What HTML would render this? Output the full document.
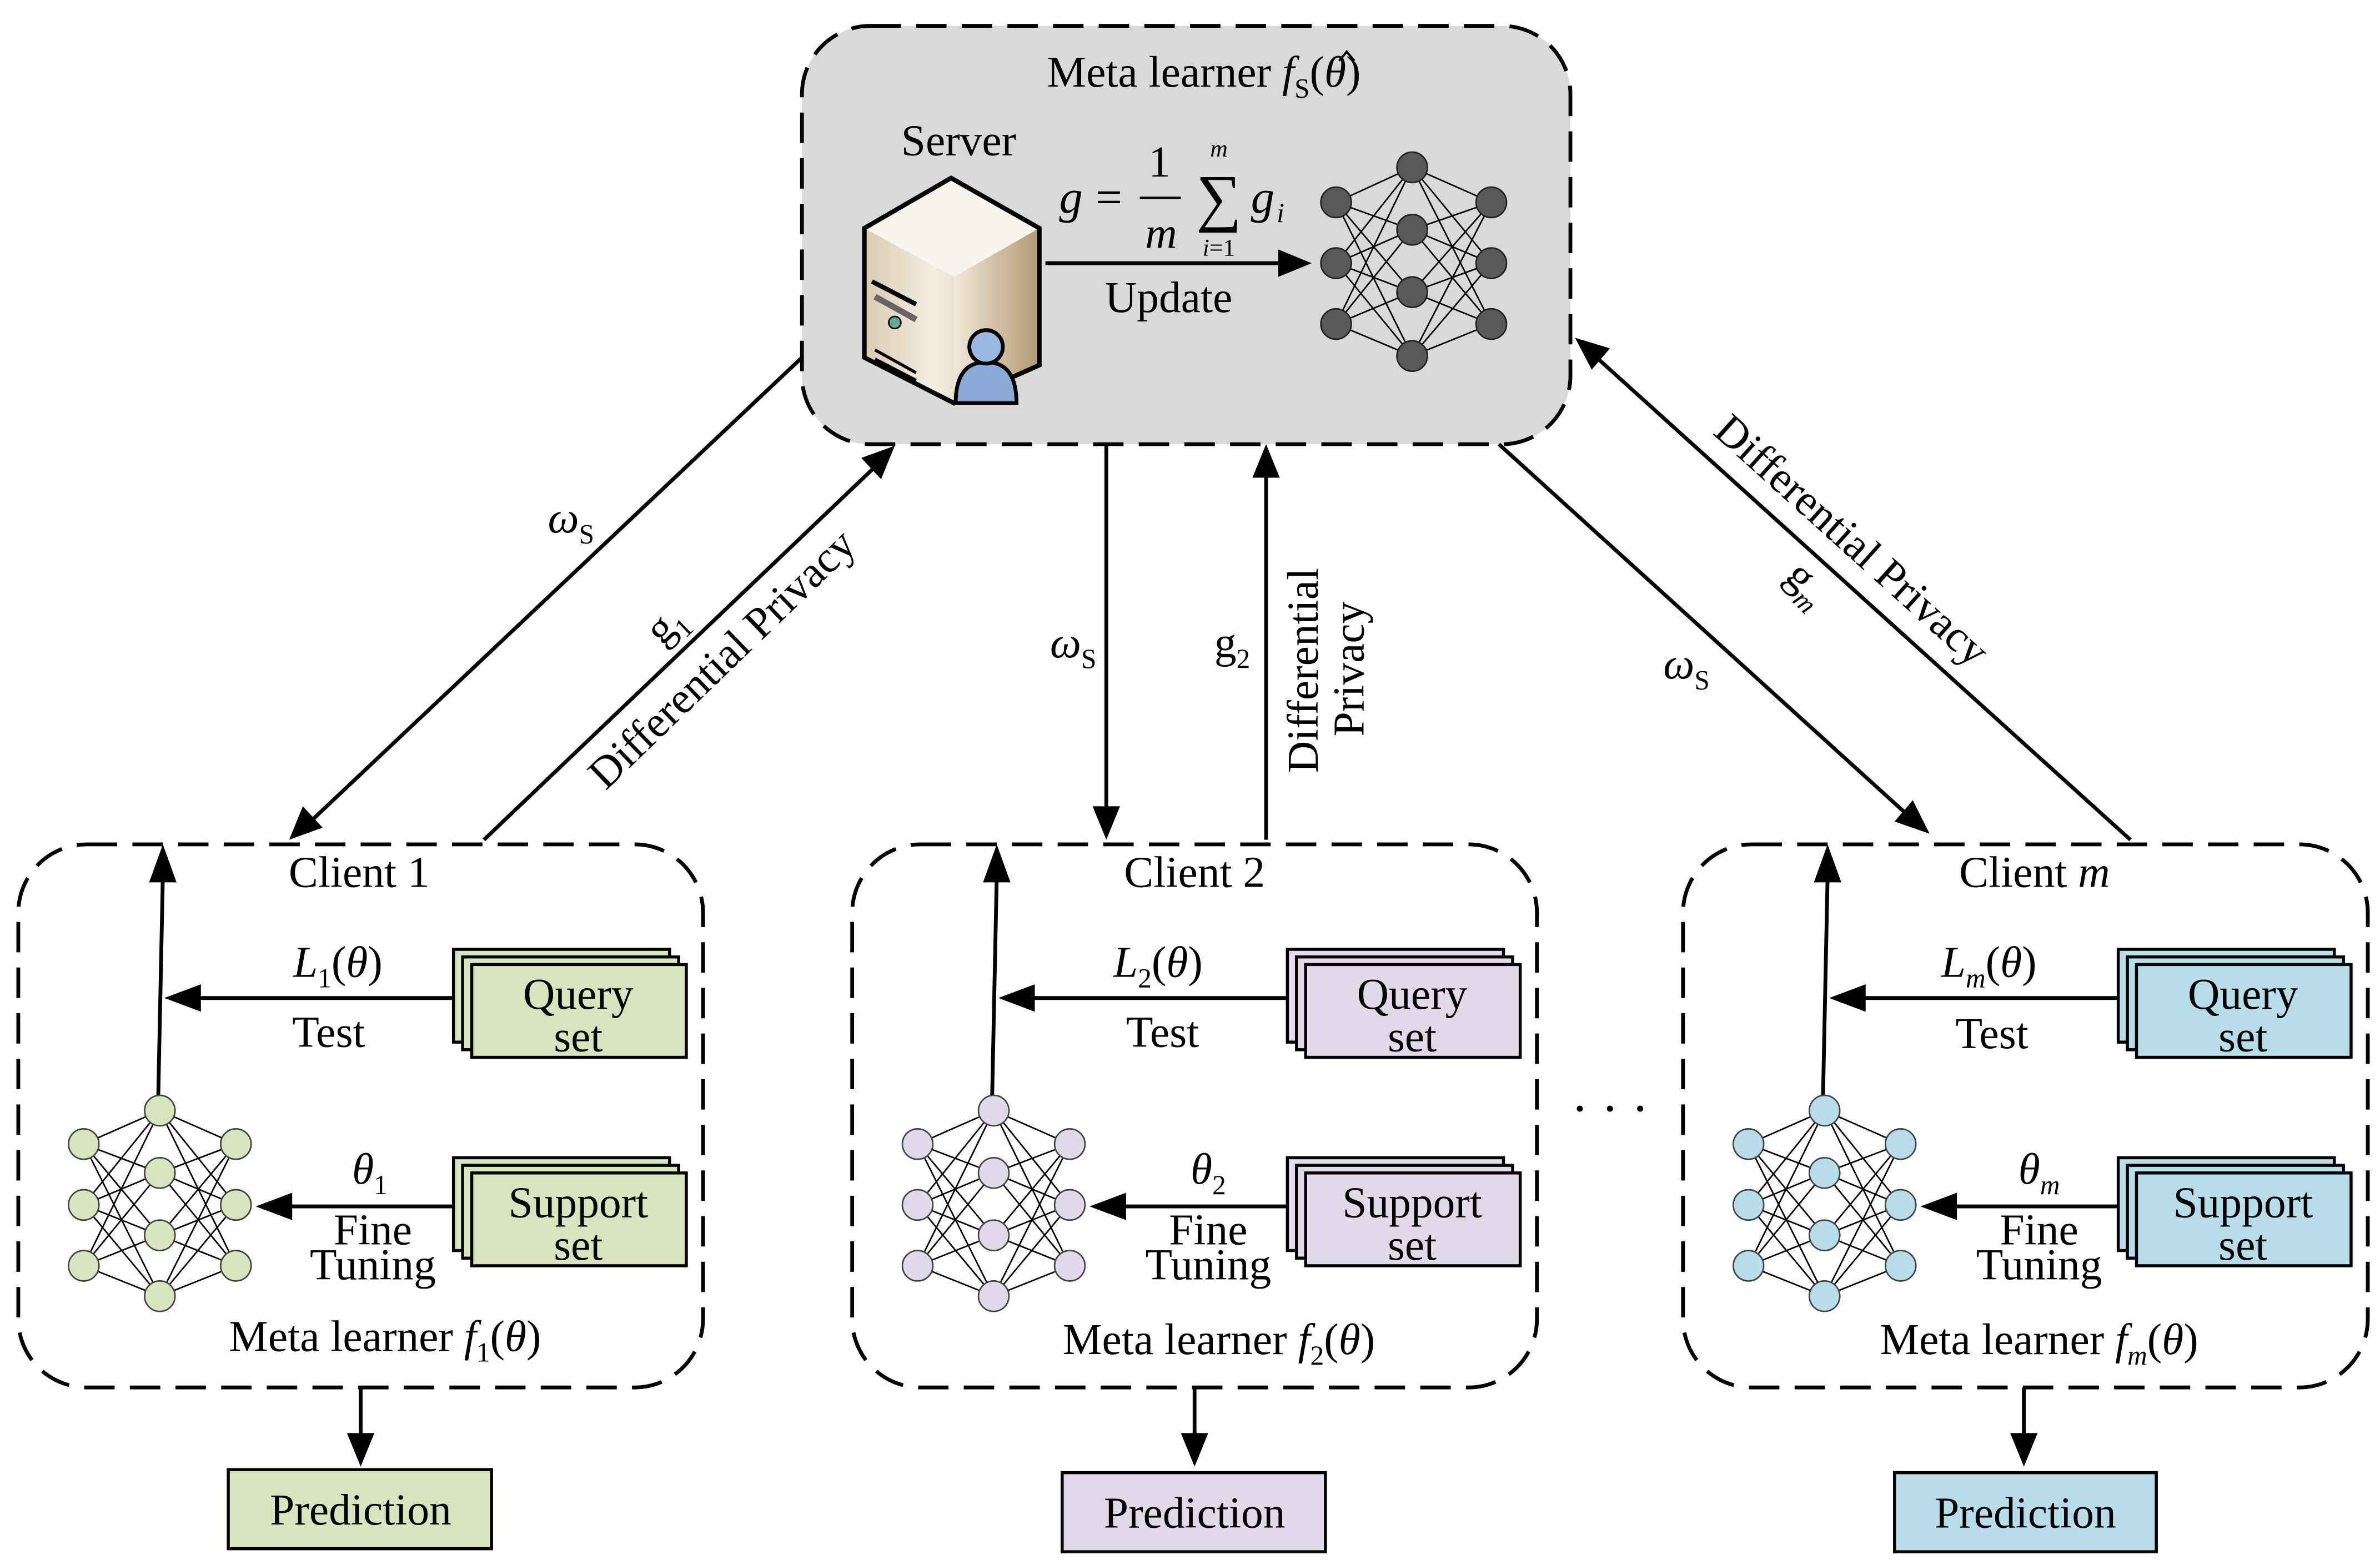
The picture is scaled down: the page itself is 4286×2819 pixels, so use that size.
<!DOCTYPE html>
<html><head><meta charset="utf-8"><style>
html,body{margin:0;padding:0;background:#fff;}
svg{display:block;}
text{font-family:"Liberation Serif",serif;fill:#000;}
</style></head><body>
<svg width="4286" height="2819" viewBox="0 0 1564 1028.7" xmlns="http://www.w3.org/2000/svg">
<defs>
<linearGradient id="srv" x1="0" x2="1"><stop offset="0" stop-color="#d8ccb0"/><stop offset="0.4" stop-color="#f3eee2"/><stop offset="1" stop-color="#b9a47c"/></linearGradient>
<linearGradient id="srv2" x1="0" x2="1"><stop offset="0" stop-color="#efe8d8"/><stop offset="1" stop-color="#b09a70"/></linearGradient>
</defs>

<rect x="527" y="17" width="505" height="275" rx="45" fill="#d9d9d9" stroke="#000" stroke-width="2.5" stroke-dasharray="20,10"/>
<text x="688" y="57" font-size="29">Meta learner <tspan font-style="italic">f</tspan><tspan font-size="18" dy="7">S</tspan><tspan dy="-7">(</tspan><tspan font-style="italic">θ</tspan>)</text>
<path d="M880,40 L885,34 L890,40" fill="none" stroke="#000" stroke-width="1.5"/>
<text x="630" y="102" font-size="29" text-anchor="middle">Server</text>
<polygon points="568,150 625,117 683,150 683,240 627,265 568,235" fill="url(#srv)"/>
<polygon points="568,150 625,117 683,150 627,182" fill="#f8f5ee"/>
<polygon points="627,182 683,150 683,240 627,265" fill="url(#srv2)"/>
<polygon points="568,150 625,117 683,150 683,240 627,265 568,235" fill="none" stroke="#000" stroke-width="3"/>
<line x1="573" y1="185" x2="602" y2="200" stroke="#000" stroke-width="3"/>
<line x1="575" y1="195" x2="602" y2="210" stroke="#666" stroke-width="4"/>
<circle cx="588" cy="212" r="4" fill="#6a9" stroke="#000" stroke-width="1"/>
<line x1="575" y1="230" x2="602" y2="245" stroke="#000" stroke-width="2"/>
<line x1="575" y1="236" x2="602" y2="250" stroke="#000" stroke-width="2"/>
<path d="M628,265 Q628,238 648,238 Q668,238 668,265 Z" fill="#8aaad8" stroke="#000" stroke-width="2.5"/>
<circle cx="648" cy="228" r="11" fill="#9bb9e0" stroke="#000" stroke-width="2.5"/>
<text x="696" y="140" font-size="31" font-style="italic">g</text>
<text x="720" y="140" font-size="31">=</text>
<text x="762" y="116" font-size="29" text-anchor="middle">1</text>
<line x1="749" y1="130" x2="776" y2="130" stroke="#000" stroke-width="1.5"/>
<text x="763" y="163" font-size="29" font-style="italic" text-anchor="middle">m</text>
<text x="801" y="144" font-size="42" text-anchor="middle">∑</text>
<text x="801" y="103" font-size="16" font-style="italic" text-anchor="middle">m</text>
<text x="801" y="168" font-size="16" text-anchor="middle"><tspan font-style="italic">i</tspan>=1</text>
<text x="822" y="140" font-size="31" font-style="italic">g</text>
<text x="839" y="146" font-size="18" font-style="italic">i</text>
<line x1="687" y1="173" x2="843" y2="173" stroke="#000" stroke-width="2.5"/>
<polygon points="862,173 840,164 840,182" fill="#000"/>
<text x="768" y="205" font-size="29" text-anchor="middle">Update</text>
<g stroke="#000" stroke-width="1">
<path d="M878,133L928,110M878,133L928,151M878,133L928,192M878,133L928,234M878,173L928,110M878,173L928,151M878,173L928,192M878,173L928,234M878,213L928,110M878,213L928,151M878,213L928,192M878,213L928,234M980,133L928,110M980,133L928,151M980,133L928,192M980,133L928,234M980,173L928,110M980,173L928,151M980,173L928,192M980,173L928,234M980,213L928,110M980,213L928,151M980,213L928,192M980,213L928,234"/>
</g>
<g fill="#595959" stroke="#222" stroke-width="1">
<circle cx="878" cy="133" r="10"/><circle cx="878" cy="173" r="10"/><circle cx="878" cy="213" r="10"/>
<circle cx="928" cy="110" r="10"/><circle cx="928" cy="151" r="10"/><circle cx="928" cy="192" r="10"/><circle cx="928" cy="234" r="10"/>
<circle cx="980" cy="133" r="10"/><circle cx="980" cy="173" r="10"/><circle cx="980" cy="213" r="10"/>
</g>

<g stroke="#000" stroke-width="2.5" fill="none">
<line x1="527" y1="235" x2="203" y2="541"/>
<line x1="318" y1="552" x2="578" y2="304"/>
<line x1="727" y1="292" x2="727" y2="532"/>
<line x1="832" y1="552" x2="832" y2="312"/>
<line x1="985" y1="292" x2="1255" y2="537"/>
<line x1="1400" y1="552" x2="1047" y2="233"/>
</g>
<g fill="#000">
<polygon points="190,552 199,530 212,544"/>
<polygon points="588,293 579,315 566,301"/>
<polygon points="727,552 718,530 736,530"/>
<polygon points="832,292 823,314 841,314"/>
<polygon points="1268,548 1245,540 1257,526"/>
<polygon points="1035,222 1058,229 1046,243"/>
</g>
<text x="360" y="350" font-size="29" font-style="italic">ω<tspan font-size="18" font-style="normal" dy="7">S</tspan></text>
<text x="690" y="432" font-size="29" font-style="italic">ω<tspan font-size="18" font-style="normal" dy="7">S</tspan></text>
<text x="1093" y="446" font-size="29" font-style="italic">ω<tspan font-size="18" font-style="normal" dy="7">S</tspan></text>
<text transform="translate(435,425) rotate(-44)" font-size="29">g<tspan font-size="18" dy="7">1</tspan></text>
<text transform="translate(398,520) rotate(-44)" font-size="29">Differential Privacy</text>
<text x="798" y="432" font-size="29">g<tspan font-size="18" dy="7">2</tspan></text>
<text transform="translate(866,508) rotate(-90)" font-size="29">Differential</text>
<text transform="translate(896,484) rotate(-90)" font-size="29">Privacy</text>
<text transform="translate(1172,380) rotate(45)" font-size="29">g<tspan font-size="18" font-style="italic" dy="7">m</tspan></text>
<text transform="translate(1125,285) rotate(42)" font-size="29">Differential Privacy</text>
<text x="1058" y="740" font-size="34" text-anchor="middle">· · ·</text>

<g>
<rect x="12" y="555" width="450" height="357" rx="45" fill="none" stroke="#000" stroke-width="2.5" stroke-dasharray="20,10"/>
<line x1="104" y1="720" x2="107" y2="576" stroke="#000" stroke-width="2.5"/>
<polygon points="107,555 98,580 116,580" fill="#000"/>
<line x1="298" y1="656" x2="130" y2="656" stroke="#000" stroke-width="2.5"/>
<polygon points="108,656 132,647 132,665" fill="#000"/>
<line x1="298" y1="793" x2="190" y2="793" stroke="#000" stroke-width="2.5"/>
<polygon points="168,793 192,784 192,802" fill="#000"/>
<g stroke="#000" stroke-width="1">
<path d="M55,752L105,730M55,752L105,771M55,752L105,812M55,752L105,852M55,792L105,730M55,792L105,771M55,792L105,812M55,792L105,852M55,832L105,730M55,832L105,771M55,832L105,812M55,832L105,852M155,752L105,730M155,752L105,771M155,752L105,812M155,752L105,852M155,792L105,730M155,792L105,771M155,792L105,812M155,792L105,852M155,832L105,730M155,832L105,771M155,832L105,812M155,832L105,852"/>
</g>
<g fill="#d7e4bd" stroke="#444" stroke-width="1">
<circle cx="55" cy="752" r="10"/><circle cx="55" cy="792" r="10"/><circle cx="55" cy="832" r="10"/>
<circle cx="105" cy="730" r="10"/><circle cx="105" cy="771" r="10"/><circle cx="105" cy="812" r="10"/><circle cx="105" cy="852" r="10"/>
<circle cx="155" cy="752" r="10"/><circle cx="155" cy="792" r="10"/><circle cx="155" cy="832" r="10"/>
</g>
<g fill="#d7e4bd" stroke="#000" stroke-width="2">
<rect x="298" y="624" width="142" height="61"/><rect x="304" y="629" width="142" height="61"/><rect x="310" y="634" width="141" height="61"/>
<rect x="298" y="761" width="142" height="61"/><rect x="304" y="766" width="142" height="61"/><rect x="310" y="771" width="141" height="61"/>
</g>
<text x="380" y="663" font-size="29" text-anchor="middle">Query</text>
<text x="380" y="691" font-size="29" text-anchor="middle">set</text>
<text x="380" y="800" font-size="29" text-anchor="middle">Support</text>
<text x="380" y="828" font-size="29" text-anchor="middle">set</text>
<text x="236" y="583" font-size="29" text-anchor="middle">Client 1</text>
<text x="222" y="642" font-size="29" text-anchor="middle"><tspan font-style="italic">L</tspan><tspan font-size="18" dy="7">1</tspan><tspan dy="-7">(</tspan><tspan font-style="italic">θ</tspan>)</text>
<text x="216" y="688" font-size="29" text-anchor="middle">Test</text>
<text x="243" y="778" font-size="29" text-anchor="middle"><tspan font-style="italic">θ</tspan><tspan font-size="18" dy="7">1</tspan></text>
<text x="245" y="818" font-size="29" text-anchor="middle">Fine</text>
<text x="245" y="841" font-size="29" text-anchor="middle">Tuning</text>
<text x="253" y="888" font-size="29" text-anchor="middle">Meta learner <tspan font-style="italic">f</tspan><tspan font-size="18" dy="7">1</tspan><tspan dy="-7">(</tspan><tspan font-style="italic">θ</tspan>)</text>
<line x1="237" y1="912" x2="237" y2="945" stroke="#000" stroke-width="2.5"/>
<polygon points="237,964 228,942 246,942" fill="#000"/>
<rect x="150" y="966" width="173" height="52" fill="#d7e4bd" stroke="#000" stroke-width="2"/>
<text x="237" y="1002" font-size="29" text-anchor="middle">Prediction</text>
</g>

<g transform="translate(548,0)">
<rect x="12" y="555" width="450" height="357" rx="45" fill="none" stroke="#000" stroke-width="2.5" stroke-dasharray="20,10"/>
<line x1="104" y1="720" x2="107" y2="576" stroke="#000" stroke-width="2.5"/>
<polygon points="107,555 98,580 116,580" fill="#000"/>
<line x1="298" y1="656" x2="130" y2="656" stroke="#000" stroke-width="2.5"/>
<polygon points="108,656 132,647 132,665" fill="#000"/>
<line x1="298" y1="793" x2="190" y2="793" stroke="#000" stroke-width="2.5"/>
<polygon points="168,793 192,784 192,802" fill="#000"/>
<g stroke="#000" stroke-width="1">
<path d="M55,752L105,730M55,752L105,771M55,752L105,812M55,752L105,852M55,792L105,730M55,792L105,771M55,792L105,812M55,792L105,852M55,832L105,730M55,832L105,771M55,832L105,812M55,832L105,852M155,752L105,730M155,752L105,771M155,752L105,812M155,752L105,852M155,792L105,730M155,792L105,771M155,792L105,812M155,792L105,852M155,832L105,730M155,832L105,771M155,832L105,812M155,832L105,852"/>
</g>
<g fill="#e0d9e8" stroke="#444" stroke-width="1">
<circle cx="55" cy="752" r="10"/><circle cx="55" cy="792" r="10"/><circle cx="55" cy="832" r="10"/>
<circle cx="105" cy="730" r="10"/><circle cx="105" cy="771" r="10"/><circle cx="105" cy="812" r="10"/><circle cx="105" cy="852" r="10"/>
<circle cx="155" cy="752" r="10"/><circle cx="155" cy="792" r="10"/><circle cx="155" cy="832" r="10"/>
</g>
<g fill="#e0d9e8" stroke="#000" stroke-width="2">
<rect x="298" y="624" width="142" height="61"/><rect x="304" y="629" width="142" height="61"/><rect x="310" y="634" width="141" height="61"/>
<rect x="298" y="761" width="142" height="61"/><rect x="304" y="766" width="142" height="61"/><rect x="310" y="771" width="141" height="61"/>
</g>
<text x="380" y="663" font-size="29" text-anchor="middle">Query</text>
<text x="380" y="691" font-size="29" text-anchor="middle">set</text>
<text x="380" y="800" font-size="29" text-anchor="middle">Support</text>
<text x="380" y="828" font-size="29" text-anchor="middle">set</text>
<text x="237" y="583" font-size="29" text-anchor="middle">Client 2</text>
<text x="213" y="642" font-size="29" text-anchor="middle"><tspan font-style="italic">L</tspan><tspan font-size="18" dy="7">2</tspan><tspan dy="-7">(</tspan><tspan font-style="italic">θ</tspan>)</text>
<text x="216" y="688" font-size="29" text-anchor="middle">Test</text>
<text x="246" y="778" font-size="29" text-anchor="middle"><tspan font-style="italic">θ</tspan><tspan font-size="18" dy="7">2</tspan></text>
<text x="246" y="818" font-size="29" text-anchor="middle">Fine</text>
<text x="246" y="841" font-size="29" text-anchor="middle">Tuning</text>
<text x="253" y="890" font-size="29" text-anchor="middle">Meta learner <tspan font-style="italic">f</tspan><tspan font-size="18" dy="7">2</tspan><tspan dy="-7">(</tspan><tspan font-style="italic">θ</tspan>)</text>
<line x1="237" y1="912" x2="237" y2="945" stroke="#000" stroke-width="2.5"/>
<polygon points="237,964 228,942 246,942" fill="#000"/>
<rect x="150" y="968" width="173" height="52" fill="#e0d9e8" stroke="#000" stroke-width="2"/>
<text x="237" y="1004" font-size="29" text-anchor="middle">Prediction</text>
</g>

<g transform="translate(1094,0)">
<rect x="12" y="555" width="450" height="357" rx="45" fill="none" stroke="#000" stroke-width="2.5" stroke-dasharray="20,10"/>
<line x1="104" y1="720" x2="107" y2="576" stroke="#000" stroke-width="2.5"/>
<polygon points="107,555 98,580 116,580" fill="#000"/>
<line x1="298" y1="656" x2="130" y2="656" stroke="#000" stroke-width="2.5"/>
<polygon points="108,656 132,647 132,665" fill="#000"/>
<line x1="298" y1="793" x2="190" y2="793" stroke="#000" stroke-width="2.5"/>
<polygon points="168,793 192,784 192,802" fill="#000"/>
<g stroke="#000" stroke-width="1">
<path d="M55,752L105,730M55,752L105,771M55,752L105,812M55,752L105,852M55,792L105,730M55,792L105,771M55,792L105,812M55,792L105,852M55,832L105,730M55,832L105,771M55,832L105,812M55,832L105,852M155,752L105,730M155,752L105,771M155,752L105,812M155,752L105,852M155,792L105,730M155,792L105,771M155,792L105,812M155,792L105,852M155,832L105,730M155,832L105,771M155,832L105,812M155,832L105,852"/>
</g>
<g fill="#b7dde8" stroke="#444" stroke-width="1">
<circle cx="55" cy="752" r="10"/><circle cx="55" cy="792" r="10"/><circle cx="55" cy="832" r="10"/>
<circle cx="105" cy="730" r="10"/><circle cx="105" cy="771" r="10"/><circle cx="105" cy="812" r="10"/><circle cx="105" cy="852" r="10"/>
<circle cx="155" cy="752" r="10"/><circle cx="155" cy="792" r="10"/><circle cx="155" cy="832" r="10"/>
</g>
<g fill="#b7dde8" stroke="#000" stroke-width="2">
<rect x="298" y="624" width="142" height="61"/><rect x="304" y="629" width="142" height="61"/><rect x="310" y="634" width="141" height="61"/>
<rect x="298" y="761" width="142" height="61"/><rect x="304" y="766" width="142" height="61"/><rect x="310" y="771" width="141" height="61"/>
</g>
<text x="380" y="663" font-size="29" text-anchor="middle">Query</text>
<text x="380" y="691" font-size="29" text-anchor="middle">set</text>
<text x="380" y="800" font-size="29" text-anchor="middle">Support</text>
<text x="380" y="828" font-size="29" text-anchor="middle">set</text>
<text x="243" y="583" font-size="29" text-anchor="middle">Client <tspan font-style="italic">m</tspan></text>
<text x="213" y="642" font-size="29" text-anchor="middle"><tspan font-style="italic">L</tspan><tspan font-size="18" font-style="italic" dy="7">m</tspan><tspan dy="-7">(</tspan><tspan font-style="italic">θ</tspan>)</text>
<text x="215" y="689" font-size="29" text-anchor="middle">Test</text>
<text x="246" y="778" font-size="29" text-anchor="middle"><tspan font-style="italic">θ</tspan><tspan font-size="18" font-style="italic" dy="7">m</tspan></text>
<text x="246" y="818" font-size="29" text-anchor="middle">Fine</text>
<text x="246" y="841" font-size="29" text-anchor="middle">Tuning</text>
<text x="246" y="890" font-size="29" text-anchor="middle">Meta learner <tspan font-style="italic">f</tspan><tspan font-size="18" font-style="italic" dy="7">m</tspan><tspan dy="-7">(</tspan><tspan font-style="italic">θ</tspan>)</text>
<line x1="236" y1="912" x2="236" y2="945" stroke="#000" stroke-width="2.5"/>
<polygon points="236,964 227,942 245,942" fill="#000"/>
<rect x="151" y="968" width="172" height="52" fill="#b7dde8" stroke="#000" stroke-width="2"/>
<text x="237" y="1004" font-size="29" text-anchor="middle">Prediction</text>
</g>
</svg>
</body></html>
